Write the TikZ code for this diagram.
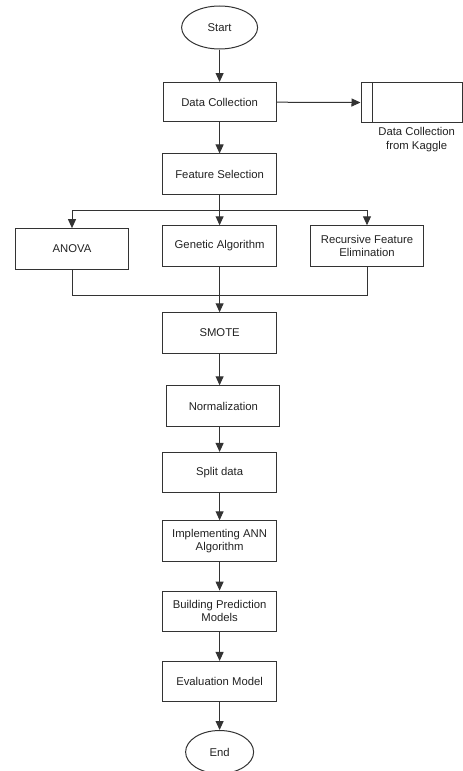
\documentclass[tikz,border=0pt]{standalone}
\usepackage{fontspec}
\setmainfont{Liberation Sans}
\usetikzlibrary{shapes.geometric,arrows.meta}
\definecolor{ln}{HTML}{333333}
\definecolor{tx}{HTML}{222222}
\begin{document}
\begin{tikzpicture}[x=1pt,y=-1pt,
  every node/.style={font=\fontsize{11.3}{13.3}\selectfont, text=tx},
  box/.style={draw=ln, line width=1pt, rectangle, minimum width=#1, minimum height=40.5pt, inner sep=1pt, align=center},
  box/.default=114pt,
  term/.style={draw=ln, line width=1pt, ellipse, minimum width=76pt, minimum height=43pt, inner sep=0pt},
  conn/.style={draw=ln, line width=1pt},
  arr/.style={conn, -{Triangle[length=9pt,width=8pt]}}]
\useasboundingbox (0,0) rectangle (463,771);
\fill[white] (0,0) rectangle (463,771);

\node[term] (start) at (219.6,27.5) {Start};
\node[box=113pt, minimum height=39pt] (dc) at (219.6,102) {Data Collection};
\node[draw=ln, line width=1pt, rectangle, minimum width=101pt, minimum height=40pt, inner sep=0pt] (kag) at (411.5,102.7) {};
\draw[conn] ([xshift=11.7pt]kag.north west) -- ([xshift=11.7pt]kag.south west);
\node[align=center] (kagl) at (416.7,139.7) {Data Collection\\from Kaggle};

\node[box] (fs) at (219.6,174.2) {Feature Selection};
\node[box=113.4pt] (anova) at (72,248.9) {ANOVA};
\node[box] (ga) at (219.6,246) {Genetic Algorithm};
\node[box=113.4pt] (rfe) at (367,246) {Recursive Feature\\Elimination};
\node[box] (smote) at (219.6,333) {SMOTE};
\node[box=113.3pt] (norm) at (223.3,406) {Normalization};
\node[box] (split) at (219.6,472.7) {Split data};
\node[box] (ann) at (219.6,541) {Implementing ANN\\Algorithm};
\node[box] (bpm) at (219.6,611.3) {Building Prediction\\Models};
\node[box] (eval) at (219.6,681.7) {Evaluation Model};
\node[term, minimum width=68pt] (end) at (219.6,752) {End};

\draw[arr] (start) -- (dc);
\draw[arr] (dc) -- (kag);
\draw[arr] (dc) -- (fs);
\coordinate (br) at (219.6,210);
\draw[arr] (fs) -- (ga);
\draw[arr] (br) -| (anova.north);
\draw[arr] (br) -| (rfe.north);
\coordinate (mg) at (219.6,295.3);
\draw[conn] (anova.south) |- (mg) -| (rfe.south);
\draw[arr] (ga) -- (smote);
\draw[arr] (smote.south) -- (smote.south |- norm.north);
\draw[arr] (norm.south -| split.north) -- (split.north);
\draw[arr] (split) -- (ann);
\draw[arr] (ann) -- (bpm);
\draw[arr] (bpm) -- (eval);
\draw[arr] (eval) -- (end);
\end{tikzpicture}
\end{document}
